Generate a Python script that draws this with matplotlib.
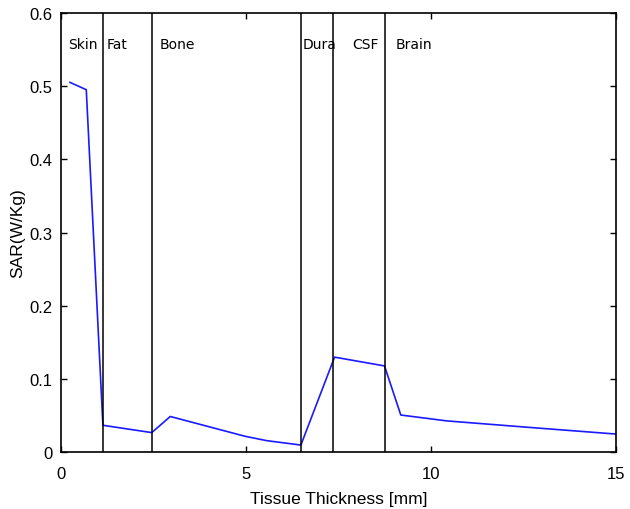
import matplotlib
matplotlib.use("Agg")
import matplotlib.pyplot as plt

# SAR along tissue depth
thickness = [0.24, 0.68, 1.13, 2.45, 2.95, 4.97, 5.56, 6.48, 7.39, 8.74, 9.18, 10.42, 12.68, 15.0]
sar = [0.505, 0.495, 0.037, 0.027, 0.049, 0.022, 0.016, 0.010, 0.130, 0.118, 0.051, 0.043, 0.034, 0.025]

boundaries = [1.13, 2.45, 6.48, 7.36, 8.74]
tissues = ["Skin", "Fat", "Bone", "Dura", "CSF", "Brain"]
label_x = [0.19, 1.23, 2.65, 6.52, 7.86, 9.05]

fig = plt.figure(figsize=(6.3, 5.1), dpi=100)
ax = fig.add_axes([0.097, 0.111, 0.881, 0.862])

ax.plot(thickness, sar, color="#1a1aff", linewidth=1.2)
for b in boundaries:
    ax.axvline(b, color="black", linewidth=1.1)
for name, x in zip(tissues, label_x):
    ax.text(x, 0.557, name, fontsize=10, family="DejaVu Sans", va="center", ha="left")

ax.set_xlim(0, 15)
ax.set_ylim(0, 0.6)
ax.set_xticks([0, 5, 10, 15])
ax.set_yticks([0, 0.1, 0.2, 0.3, 0.4, 0.5, 0.6])
ax.set_xticklabels(["0", "5", "10", "15"])
ax.set_yticklabels(["0", "0.1", "0.2", "0.3", "0.4", "0.5", "0.6"])
ax.tick_params(direction="in", top=True, right=True, length=4, width=1,
               labelsize=12, pad=6)
ax.tick_params(axis="x", pad=10)
for lab in ax.get_xticklabels() + ax.get_yticklabels():
    lab.set_family("Liberation Sans")
for s in ax.spines.values():
    s.set_linewidth(1.2)

ax.set_xlabel("Tissue Thickness [mm]", fontsize=12.5, family="Liberation Sans", labelpad=7)
ax.set_ylabel("SAR(W/Kg)", fontsize=12.5, family="Liberation Sans", labelpad=3)

fig.savefig("out.png", dpi=100)
